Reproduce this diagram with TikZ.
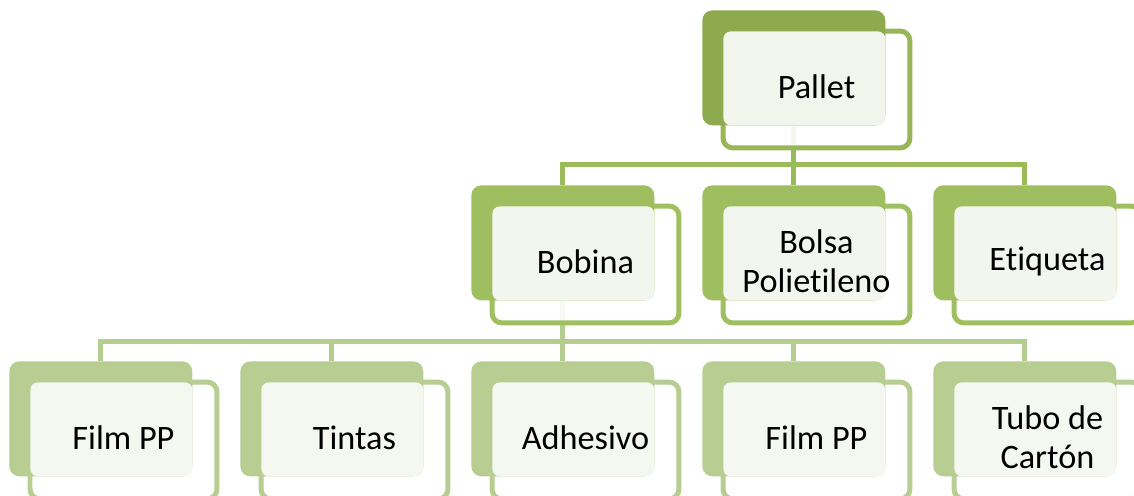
\documentclass[tikz,border=0pt]{standalone}
\usepackage{fontspec}
\setmainfont{Carlito}[Ligatures=NoCommon]
\usetikzlibrary{positioning}

\pgfdeclarelayer{links}
\pgfdeclarelayer{frames}
\pgfsetlayers{links,frames,main}

\definecolor{back1}{RGB}{142,170,79}
\definecolor{back2}{RGB}{159,190,96}
\definecolor{back3}{RGB}{183,205,146}
\definecolor{edge1}{RGB}{152,182,88}
\definecolor{edge2}{RGB}{160,191,97}
\definecolor{edge3}{RGB}{183,205,146}
\definecolor{tint1}{RGB}{242,245,236}
\definecolor{tint2}{RGB}{243,246,238}
\definecolor{tint3}{RGB}{245,248,241}
\definecolor{linkA}{RGB}{155,186,89}
\definecolor{linkB}{RGB}{182,205,144}

\tikzset{
  backbox/.style={rounded corners=0.2cm, inner sep=0pt, anchor=north west,
    minimum width=3.66cm, minimum height=2.3cm},
  framebox/.style={draw, line width=0.1cm, rounded corners=0.2cm, inner sep=0pt,
    fill=white, fill opacity=0.9, anchor=north west,
    minimum width=3.74cm, minimum height=2.34cm},
  tintbox/.style={rounded corners=0.15cm, inner sep=0pt, anchor=south east,
    minimum width=3.24cm, minimum height=1.88cm},
  boxtext/.style={font=\fontsize{19.5}{22.2}\selectfont, align=center, text=black},
  link/.style={line width=0.1cm}
}

\begin{document}
\begin{tikzpicture}[x=0.02cm, y=-0.02cm]
        \useasboundingbox (0,0) rectangle (1134,495);
        %% Boxes
        \foreach \nm/\x/\y/\lvl/\txt in {
            pallet/702/10/1/Pallet,
            bobina/471/185/2/Bobina,
            bolsa/702/185/2/{Bolsa\\Polietileno},
            etiqueta/933/185/2/Etiqueta,
            filmA/9/361/3/Film PP,
            tintas/240/361/3/Tintas,
            adhesivo/471/361/3/Adhesivo,
            filmB/702/361/3/Film PP,
            tubo/933/361/3/{Tubo de\\Cartón}}
        {
            \node[backbox, fill=back\lvl] (\nm-b) at (\x,\y) {};
            \begin{pgfonlayer}{frames}
                \node[framebox, draw=edge\lvl] (\nm-f) at ([shift={(18.5,18.5)}]\nm-b.north west) {};
            \end{pgfonlayer}
            \node[tintbox, fill=tint\lvl] (\nm-t) at (\nm-b.south east) {};
            \node[boxtext] (\nm) at ([yshift=0.06cm]\nm-f.center) {\txt};
        }
        %% Links
        \begin{pgfonlayer}{links}
            \coordinate (busA) at ([yshift=-0.78cm]pallet-b.south);
            \draw[link, linkA] (pallet-b.south) -- (busA);
            \foreach \c in {bobina,bolsa,etiqueta}
                \draw[link, linkA] (busA) -| (\c-b.north);
            \coordinate (busB) at ([yshift=-0.82cm]bobina-b.south);
            \draw[link, linkB] (bobina-b.south) -- (busB);
            \foreach \c in {filmA,tintas,adhesivo,filmB,tubo}
                \draw[link, linkB] (busB) -| (\c-b.north);
        \end{pgfonlayer}
\end{tikzpicture}
\end{document}
